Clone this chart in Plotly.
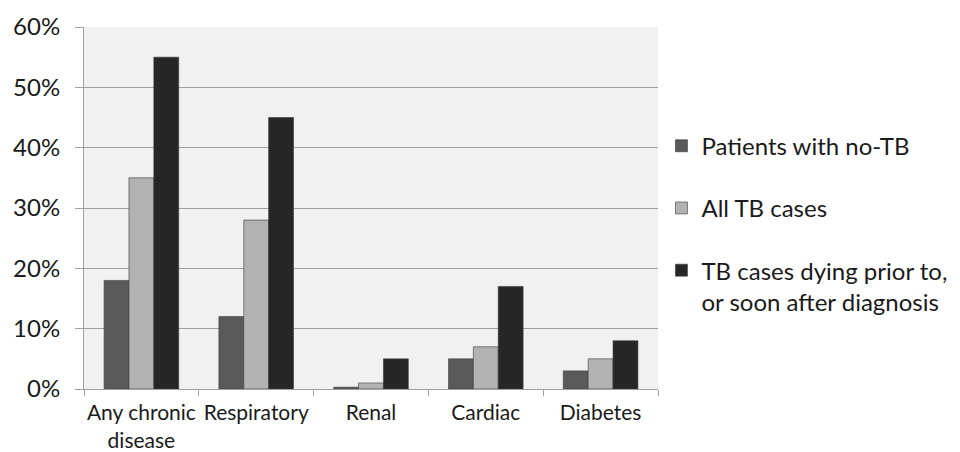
import plotly.graph_objects as go

categories = ["Any chronic<br>disease", "Respiratory", "Renal", "Cardiac", "Diabetes"]
no_tb = [18, 12, 0.3, 5, 3]
all_tb = [35, 28, 1, 7, 5]
dying_tb = [55, 45, 5, 17, 8]
series_names = ["Patients with no-TB", "All TB cases",
                "TB cases dying prior to,<br>or soon after diagnosis"]
series_colors = ["#595959", "#B2B2B2", "#262626"]
y_ticks = [0, 10, 20, 30, 40, 50, 60]
y_ticktext = [f"{v}%" for v in y_ticks]

fig = go.Figure()
for i, (name, vals, col) in enumerate(zip(series_names, [no_tb, all_tb, dying_tb], series_colors)):
    fig.add_trace(go.Bar(
        x=categories, y=vals, name=name, legendgroup=f"g{i}",
        marker=dict(color=col, line=dict(color="#3a3a3a", width=0.6)),
    ))

fig.update_layout(
    width=952, height=444,
    margin=dict(l=76, r=302, t=19, b=63, autoexpand=False),
    paper_bgcolor="white", plot_bgcolor="#F1F1F1",
    barmode="group", bargap=0.35, bargroupgap=0,
    font=dict(family="Lato, Carlito, sans-serif", color="#1a1a1a", size=21),
    legend=dict(x=1.006, y=0.733, xanchor="left", yanchor="top",
                font=dict(size=24), tracegroupgap=28, valign="top",
                itemwidth=30),
    showlegend=True,
)
fig.update_yaxes(range=[0, 60], tickvals=y_ticks, ticktext=y_ticktext,
                 showgrid=True, gridcolor="#A0A0A0", gridwidth=1,
                 showline=True, linecolor="#A0A0A0", linewidth=1,
                 ticks="outside", ticklen=8, tickcolor="#A0A0A0",
                 ticklabelstandoff=10, automargin=False,
                 tickfont=dict(size=24), zeroline=False)
fig.update_xaxes(type="category", showline=True, linecolor="#A0A0A0", linewidth=1,
                 ticks="outside", ticklen=6, tickcolor="#A0A0A0", tickangle=0,
                 ticklabelstandoff=5,
                 tickson="boundaries", automargin=False, tickfont=dict(size=21))

fig.write_html("out.html")
